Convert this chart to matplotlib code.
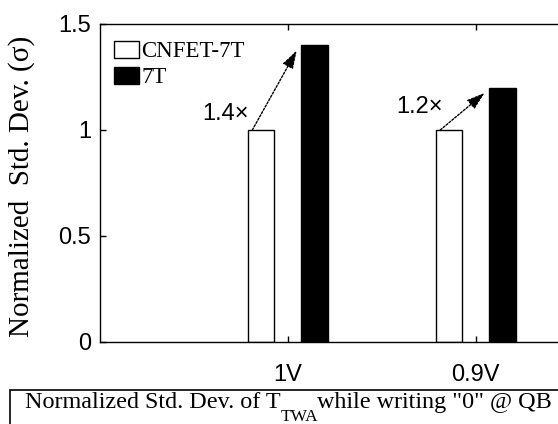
import matplotlib
matplotlib.use('Agg')
import matplotlib.pyplot as plt
from matplotlib.patches import Rectangle
import numpy as np

# Data
categories = ['1V', '0.9V']
cnfet_7t = [1.0, 1.0]
sram_7t = [1.4, 1.2]
ratio_labels = ['1.4\u00d7', '1.2\u00d7']
y_ticks = [0, 0.5, 1, 1.5]
y_tick_labels = ['0', '0.5', '1', '1.5']

W, H = 558, 424
fig = plt.figure(figsize=(W / 100, H / 100), dpi=100)

# axes run past the right edge of the picture (the original is cropped)
ax_left, ax_bottom, ax_top = 99.7, 341.7, 24.0
px_per_unit = 188.0
ax = fig.add_axes([ax_left / W, (H - ax_bottom) / H,
                   3 * px_per_unit / W, (ax_bottom - ax_top) / H])

x = np.arange(1, len(categories) + 1)
bw = 0.14
off = 0.143
ax.bar(x - off, cnfet_7t, bw, color='white', edgecolor='black', linewidth=1.0,
       label='CNFET-7T')
ax.bar(x + off, sram_7t, bw, color='black', edgecolor='black', linewidth=1.0,
       label='7T')

ax.set_xlim(0, 3)
ax.set_ylim(0, 1.5)
ax.set_xticks(x)
ax.set_xticklabels(categories)
ax.set_yticks(y_ticks)
ax.set_yticklabels(y_tick_labels)
for sp in ax.spines.values():
    sp.set_linewidth(1.0)
ax.tick_params(direction='in', length=4.5, width=1.0, top=True, right=True,
               labelsize=17, labelfontfamily='Liberation Sans')
ax.tick_params(axis='x', pad=16)
ax.tick_params(axis='y', pad=6)

# ratio arrows from the CNFET bar to the 7T bar
text_shift = [(-0.02, 1.075), (0.015, 1.108)]
for i in range(len(categories)):
    sx = x[i] - off - bw / 2 + 0.025
    ex = x[i] + off - bw / 2 - 0.025
    ey = sram_7t[i] - 0.025
    ax.annotate('', xy=(ex, ey), xytext=(sx, cnfet_7t[i]),
                arrowprops=dict(arrowstyle='-|>,head_length=1.1,head_width=0.35',
                                color='black', linestyle=(0, (1.5, 1.2)),
                                linewidth=1.0, shrinkA=0, shrinkB=0))
    ax.text(sx + text_shift[i][0], text_shift[i][1], ratio_labels[i],
            ha='right', va='center', fontsize=17, family='Liberation Sans')

leg = ax.legend(loc='upper left', bbox_to_anchor=(114 / W, 1 - 41 / H),
                bbox_transform=fig.transFigure, frameon=False, borderpad=0,
                borderaxespad=0,
                prop={'family': 'Liberation Serif', 'size': 16.5},
                handlelength=1.1, handleheight=0.74, handletextpad=0.1,
                labelspacing=0.2)

fig.text(22 / W, 0.561, 'Normalized  Std. Dev. (\u03c3)', rotation=90,
         ha='center', va='center', fontsize=21, family='Liberation Serif')

# boxed caption below the plot
fig.add_artist(Rectangle((10 / W, -0.2), 1.2, 0.2 + (H - 389.7) / H,
                         transform=fig.transFigure, fill=False,
                         edgecolor='black', linewidth=1.2))
renderer = fig.canvas.get_renderer()
base = (H - 408) / H
cap_size = 17.4
t1 = fig.text(25 / W, base, 'Normalized Std. Dev. of T', fontsize=cap_size,
              family='Liberation Serif', va='baseline')
x1 = t1.get_window_extent(renderer).x1 / W
t2 = fig.text(x1, base - 13 / H, 'TWA', fontsize=cap_size * 0.72,
              family='Liberation Serif', va='baseline')
x2 = t2.get_window_extent(renderer).x1 / W
fig.text(x2 - 1 / W, base, 'while writing "0" @ QB', fontsize=cap_size,
         family='Liberation Serif', va='baseline')

fig.savefig('out.png', dpi=100)
